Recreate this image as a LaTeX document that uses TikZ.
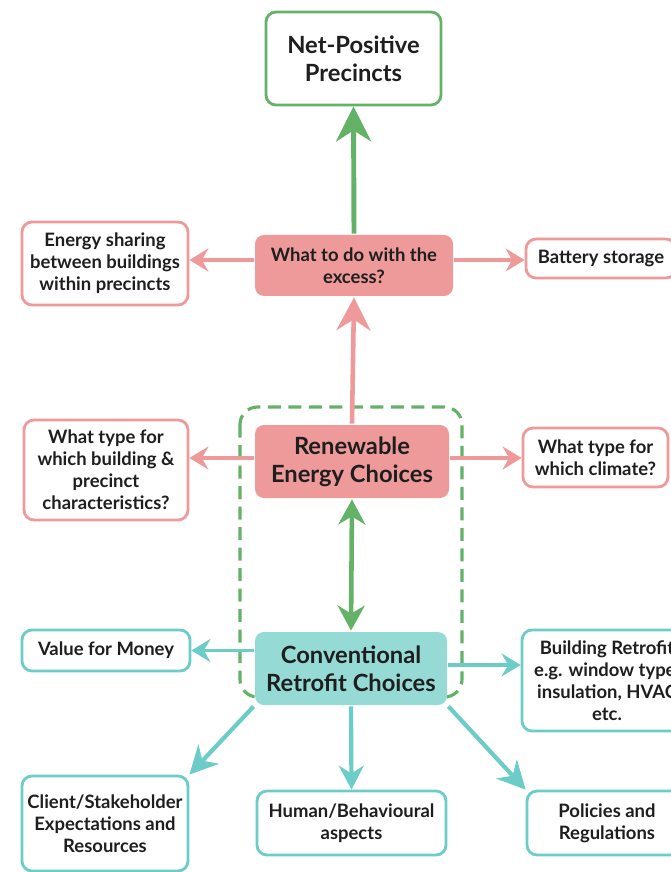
\documentclass[tikz,border=0pt]{standalone}
\usepackage{fontspec}
\setmainfont{Lato}
\usetikzlibrary{arrows.meta}

\definecolor{leaf}{RGB}{100,178,104}
\definecolor{rose}{RGB}{239,154,154}
\definecolor{aqua}{RGB}{150,218,214}
\definecolor{aqualine}{RGB}{108,204,200}
\definecolor{ink}{RGB}{30,30,30}

\begin{document}
\begin{tikzpicture}[x=0.2mm,y=-0.2mm,
	box/.style={draw, line width=1.6pt, rounded corners=2mm, fill=white, align=center, text=ink, inner sep=0pt, font=\bfseries\fontsize{10.5}{12.5}\selectfont},
	bigbox/.style={box, draw=none, rounded corners=1.8mm, font=\bfseries\fontsize{13.5}{16}\selectfont},
	leafbox/.style={box, draw=leaf, font=\bfseries\fontsize{13.5}{16}\selectfont},
	rosebox/.style={box, draw=rose},
	aquabox/.style={box, draw=aqualine},
	leafarrow/.style={draw=leaf, line width=2.8pt, -{Stealth[length=7mm, width=7mm, inset=2.2mm]}},
	bothways/.style={draw=leaf, line width=2.6pt, {Stealth[length=5mm, width=5.4mm, inset=1.6mm]}-{Stealth[length=5mm, width=5.4mm, inset=1.6mm]}},
	rosearrow/.style={draw=rose, line width=2.2pt, -{Stealth[length=3.8mm, width=4.6mm, inset=1.3mm]}},
	aquaarrow/.style={draw=aqualine, line width=2.2pt, -{Stealth[length=3.8mm, width=4.6mm, inset=1.3mm]}},
	aquabig/.style={draw=aqualine, line width=2.4pt, -{Stealth[length=5.6mm, width=5.6mm, inset=1.8mm]}}
	]

	\useasboundingbox (0,0) rectangle (671,872);

	\draw[leaf, line width=1.8pt, dash pattern=on 2.6mm off 1.5mm, rounded corners=3.5mm] (240,407) rectangle (462,697);

	\node[leafbox, minimum width=35mm, minimum height=18.6mm] (net) at (353.5,58.5) {Net-Positive\\Precincts};

	\node[bigbox, fill=rose, minimum width=39.6mm, minimum height=12.2mm, font=\bfseries\fontsize{10.5}{12.5}\selectfont] (excess) at (354,265.5) {What to do with the\\excess?};
	\node[rosebox, minimum width=33.2mm, minimum height=16.6mm] (sharing) at (105,263.5) {Energy sharing\\between buildings\\within precincts};
	\node[rosebox, minimum width=30mm, minimum height=7.8mm] (battery) at (601,258.5) {Battery storage};

	\node[bigbox, fill=rose, minimum width=38.8mm, minimum height=14.6mm] (renew) at (352,461.5) {Renewable\\Energy Choices};
	\node[rosebox, minimum width=32.8mm, minimum height=20mm] (typeb) at (106,470) {What type for\\which building \&\\precinct\\characteristics?};
	\node[rosebox, minimum width=29mm, minimum height=11.8mm] (climate) at (595.5,457.5) {What type for\\which climate?};

	\node[bigbox, fill=aqua, minimum width=38.4mm, minimum height=14.6mm] (conv) at (351,668.5) {Conventional\\Retrofit Choices};
	\node[aquabox, minimum width=33.6mm, minimum height=8.2mm] (value) at (106,650.5) {Value for Money};
	\node[aquabox, minimum width=34mm, minimum height=20.2mm] (retro) at (607,680.5) {Building Retrofit\\e.g. window type,\\insulation, HVAC\\etc.};

	\node[aquabox, minimum width=33.2mm, minimum height=19mm] (client) at (105,823.5) {Client/Stakeholder\\Expectations and\\Resources};
	\node[aquabox, minimum width=37.8mm, minimum height=12.8mm] (human) at (351.5,823) {Human/Behavioural\\aspects};
	\node[aquabox, minimum width=32mm, minimum height=12.8mm] (policy) at (607,823) {Policies and\\Regulations};

	\draw[leafarrow] (excess.north) -- (net.south);
	\draw[rosearrow, line width=2.6pt, -{Stealth[length=6.6mm, width=6.8mm, inset=2.2mm]}] (renew.north) -- (excess.south);
	\draw[rosearrow] (excess.west |- 0,260) -- (sharing.east |- 0,260);
	\draw[rosearrow] (excess.east |- 0,260) -- (battery.west |- 0,260);
	\draw[rosearrow] (renew.west |- 0,458) -- (typeb.east |- 0,458);
	\draw[rosearrow] (renew.east |- 0,458) -- (climate.west |- 0,458);
	\draw[bothways] (renew.south) -- (conv.north);
	\draw[aquaarrow] (conv.west |- value.east) -- (value.east);
	\draw[aquaarrow] (conv.east |- 0,665) -- (retro.west |- 0,665);
	\draw[aquabig] (conv.south west) -- (client.north east);
	\draw[aquabig, -{Stealth[length=4.8mm, width=5mm, inset=1.6mm]}] (conv.south) -- (human.north);
	\draw[aquabig] (conv.south east) -- (policy.north west);

\end{tikzpicture}
\end{document}
